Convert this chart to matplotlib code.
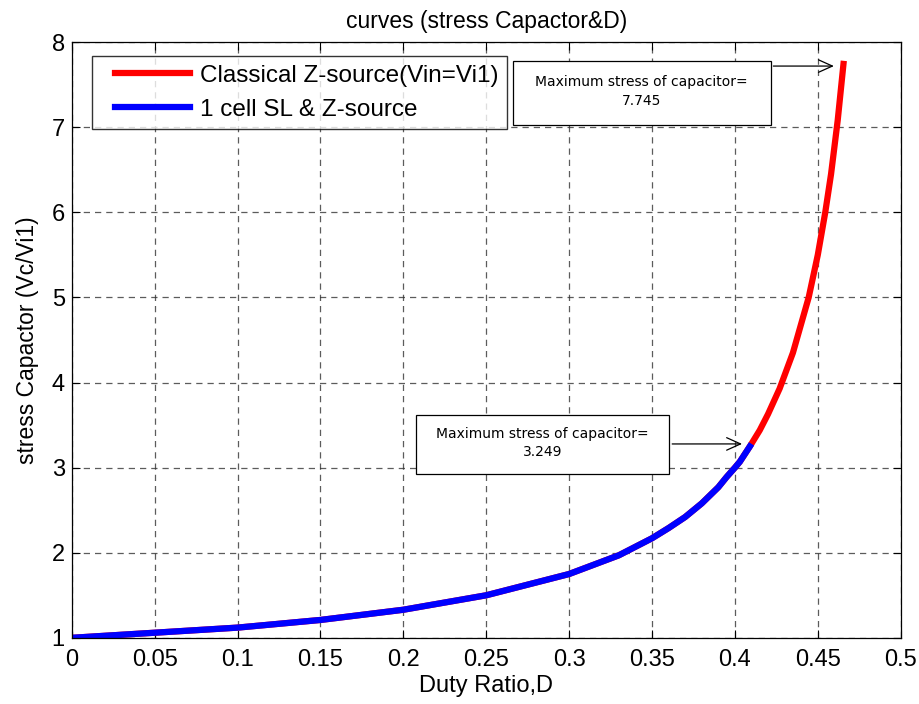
import matplotlib
matplotlib.use("Agg")
import matplotlib.pyplot as plt
from matplotlib.patches import Rectangle
from matplotlib.lines import Line2D
from matplotlib.legend_handler import HandlerLine2D

# values
d_blue = [0, 0.05, 0.10, 0.15, 0.20, 0.25, 0.30, 0.33, 0.35, 0.36, 0.37, 0.38, 0.39, 0.395, 0.40, 0.403, 0.409]
v_blue = [1.00, 1.06, 1.12, 1.21, 1.33, 1.50, 1.75, 1.97, 2.17, 2.29, 2.42, 2.58, 2.77, 2.89, 3.00, 3.07, 3.249]
d_red = d_blue + [0.415, 0.42, 0.427, 0.435, 0.4445, 0.45, 0.4545, 0.458, 0.462, 0.4655]
v_red = v_blue + [3.44, 3.63, 3.93, 4.35, 5.00, 5.50, 6.00, 6.45, 7.08, 7.745]

labels = ["Classical Z-source(Vin=Vi1)", "1 cell SL & Z-source"]
max_red = 7.745
max_blue = 3.249

plt.rcParams['font.family'] = ['Liberation Sans', 'DejaVu Sans']

fig = plt.figure(figsize=(9.2, 7.04), dpi=100)
ax = fig.add_axes([0.078, 0.094, 0.901, 0.846])

ax.plot(d_red, v_red, color='#ff0000', lw=4.5, label=labels[0])
ax.plot(d_blue, v_blue, color='#0000ff', lw=4.5, label=labels[1])

ax.set_xlim(0, 0.5)
ax.set_ylim(1, 8)
ax.set_xticks([0, 0.05, 0.1, 0.15, 0.2, 0.25, 0.3, 0.35, 0.4, 0.45, 0.5])
ax.set_xticklabels(['0', '0.05', '0.1', '0.15', '0.2', '0.25', '0.3', '0.35', '0.4', '0.45', '0.5'])
ax.set_yticks(range(1, 9))
ax.tick_params(direction='in', top=True, right=True, length=6, labelsize=17)
ax.tick_params(axis='x', pad=8)
ax.tick_params(axis='y', pad=5)
ax.grid(True, color='#333333', linestyle=(0, (5, 4)), lw=0.9, alpha=0.8)
for s in ax.spines.values():
    s.set_linewidth(0.9)

ax.set_xlabel('Duty Ratio,D', fontsize=17, labelpad=3)
ax.set_ylabel('stress Capactor (Vc/Vi1)', fontsize=16.5, labelpad=9)
ax.set_title('curves (stress Capactor&D)', fontsize=16.5, pad=10)

leg = ax.legend(loc='upper left', bbox_to_anchor=(0.024, 0.9765), fontsize=17.5,
                handlelength=3.7, frameon=True, fancybox=False, borderpad=0.35,
                labelspacing=0.5, handletextpad=0.4, borderaxespad=0,
                handler_map={Line2D: HandlerLine2D(xpad=0.6)})
leg.get_frame().set_edgecolor('black')
leg.get_frame().set_linewidth(1.0)

# annotation boxes
boxes = [((0.532, 0.861), 0.311, 0.107, max_red, 0.960, (0.4614, 7.72)),
         ((0.415, 0.275), 0.306, 0.099, max_blue, 0.3255, (0.406, 3.279))]
for (x0, y0), w, h, val, ya, pt in boxes:
    ax.add_patch(Rectangle((x0, y0), w, h, transform=ax.transAxes, facecolor='white',
                           edgecolor='black', lw=0.9, zorder=5))
    ax.text(x0 + w / 2, y0 + h / 2 + 0.003, 'Maximum stress of capacitor=\n' + str(val),
            transform=ax.transAxes, ha='center', va='center', fontsize=10,
            family='DejaVu Sans', linespacing=1.4, zorder=6)
    ax.annotate('', xy=pt, xycoords='data', xytext=(x0 + w, ya), textcoords='axes fraction',
                arrowprops=dict(arrowstyle='->,head_length=1.0,head_width=0.45', color='black', lw=0.9),
                zorder=6)

fig.savefig('out.png', dpi=100)
